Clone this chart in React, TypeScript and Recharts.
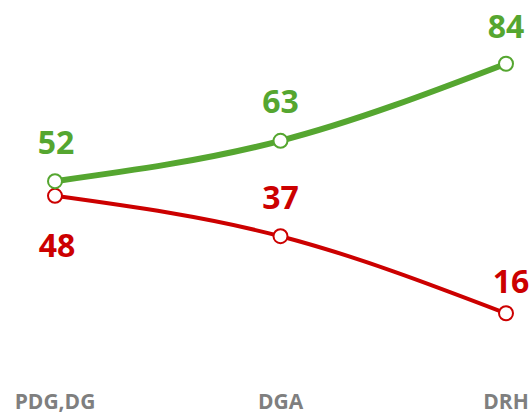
import React from "react";
import { LineChart, Line, XAxis, YAxis, LabelList } from "recharts";

const roles = ["PDG,DG", "DGA", "DRH"];
const greenValues = [52, 63, 84];
const redValues = [48, 37, 16];

const GREEN = "#55a630";
const RED = "#cc0000";
const GREY = "#7f7f7f";
const FONT = "'Open Sans', 'Liberation Sans', sans-serif";

// label offsets relative to the point (baseline)
const greenOffsets = [
  { dx: 1, dy: -27 },
  { dx: 0, dy: -28 },
  { dx: 0, dy: -26 },
];
const redOffsets = [
  { dx: 2, dy: 61 },
  { dx: 0, dy: -27 },
  { dx: 5, dy: -20 },
];

const data = roles.map((name, i) => ({
  name,
  green: greenValues[i],
  red: redValues[i],
}));

const makeLabel = (color: string, offsets: { dx: number; dy: number }[]) =>
  (props: any) => {
    const { x, y, value, index } = props;
    const o = offsets[index] || { dx: 0, dy: -27 };
    return (
      <text
        x={x + o.dx}
        y={y + o.dy}
        fill={color}
        fontSize={32}
        fontWeight={700}
        fontFamily={FONT}
        textAnchor="middle"
      >
        {value}
      </text>
    );
  };

const App = () => {
  return (
    <div style={{ position: "absolute", left: 0, top: 0, background: "#fff" }}>
      <LineChart
        width={532}
        height={416}
        data={data}
        margin={{ top: 5, right: 26, bottom: 0, left: 55 }}
      >
        <XAxis
          dataKey="name"
          axisLine={false}
          tickLine={false}
          height={44}
          tickMargin={16}
          interval={0}
          tick={{ fill: GREY, fontSize: 21, fontWeight: 700, fontFamily: FONT }}
        />
        <YAxis hide domain={[0, 100]} />
        <Line
          type="monotone"
          dataKey="red"
          stroke={RED}
          strokeWidth={4}
          dot={{ r: 7, fill: "#fff", stroke: RED, strokeWidth: 2 }}
          activeDot={false}
          isAnimationActive={false}
        >
          <LabelList dataKey="red" content={makeLabel(RED, redOffsets)} />
        </Line>
        <Line
          type="monotone"
          dataKey="green"
          stroke={GREEN}
          strokeWidth={6}
          dot={{ r: 7, fill: "#fff", stroke: GREEN, strokeWidth: 2 }}
          activeDot={false}
          isAnimationActive={false}
        >
          <LabelList dataKey="green" content={makeLabel(GREEN, greenOffsets)} />
        </Line>
      </LineChart>
    </div>
  );
};

export default App;
